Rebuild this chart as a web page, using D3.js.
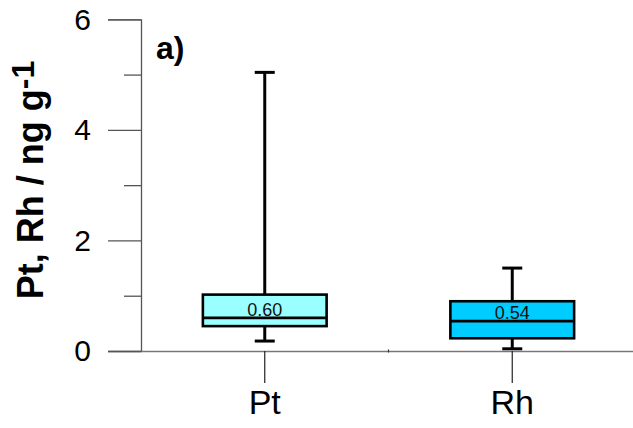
<!DOCTYPE html>
<html>
<head>
<meta charset="utf-8">
<script src="https://cdn.jsdelivr.net/npm/d3@7"></script>
<style>
  html, body { margin: 0; padding: 0; background: #fff; }
  svg { display: block; }
  text { font-family: "Liberation Sans", Arial, Helvetica, sans-serif; }
</style>
</head>
<body>
<svg id="chart" width="633" height="428"></svg>
<script>
// Box-plot statistics per element (ng g-1)
const categories = ["Pt", "Rh"];
const whiskerLow = [0.18, 0.04];
const quartile1 = [0.45, 0.23];
const medians = [0.60, 0.54];
const quartile3 = [1.02, 0.90];
const whiskerHigh = [5.04, 1.50];
const boxColors = ["#99FFFF", "#00CCFF"];
const yTicks = [0, 2, 4, 6];
const yMinorTicks = [1, 3, 5];

const svg = d3.select("#chart");

const x = d3.scaleBand().domain(categories).range([141, 636]).padding(0);
const y = d3.scaleLinear().domain([0, 6]).range([351, 19.3]);

const axisColor = "#555";

// y axis: long major ticks, short minor ticks
const yAxisMajor = d3.axisLeft(y).tickValues(yTicks).tickSize(33).tickPadding(17).tickFormat(d3.format("d"));
const yAxisMinor = d3.axisLeft(y).tickValues(yMinorTicks).tickSize(17).tickFormat("");

const gy = svg.append("g").attr("transform", `translate(${x.range()[0]},0)`).call(yAxisMajor);
gy.selectAll(".tick text").attr("font-size", 30).attr("fill", "#000").attr("dy", "0.33em");
svg.append("g").attr("transform", `translate(${x.range()[0]},0)`).call(yAxisMinor)
  .select(".domain").remove();
svg.selectAll(".domain, .tick line").attr("stroke", axisColor).attr("stroke-width", 1.3);

// x axis with category ticks hanging below
const xAxis = d3.axisBottom(x).tickSize(32).tickPadding(6).tickSizeOuter(0);
const gx = svg.append("g").attr("transform", `translate(0,${y(0)})`).call(xAxis);
gx.select(".domain").attr("stroke", "#777").attr("stroke-width", 1.5);
gx.selectAll(".tick line").attr("stroke", "#222").attr("stroke-width", 1.2);
gx.selectAll(".tick text").attr("font-size", 34).attr("fill", "#000").attr("dy", "0.74em");

// small mark at the boundary between the two categories
gx.append("line")
  .attr("x1", x("Rh")).attr("x2", x("Rh"))
  .attr("y1", -1.5).attr("y2", 1.5)
  .attr("stroke", "#333").attr("stroke-width", 1.2);

// boxes
const boxW = x.bandwidth() * 0.5;
const capW = 20;
const groups = svg.selectAll(".box").data(categories).join("g").attr("class", "box")
  .attr("transform", d => `translate(${x(d) + x.bandwidth() / 2},0)`);

groups.append("line")
  .attr("x1", 0).attr("x2", 0)
  .attr("y1", (d, i) => y(whiskerHigh[i])).attr("y2", (d, i) => y(quartile3[i]))
  .attr("stroke", "#000").attr("stroke-width", 3);
groups.append("line")
  .attr("x1", 0).attr("x2", 0)
  .attr("y1", (d, i) => y(quartile1[i])).attr("y2", (d, i) => y(whiskerLow[i]))
  .attr("stroke", "#000").attr("stroke-width", 3);
groups.append("line")
  .attr("x1", -capW / 2).attr("x2", capW / 2)
  .attr("y1", (d, i) => y(whiskerHigh[i])).attr("y2", (d, i) => y(whiskerHigh[i]))
  .attr("stroke", "#000").attr("stroke-width", 3);
groups.append("line")
  .attr("x1", -capW / 2).attr("x2", capW / 2)
  .attr("y1", (d, i) => y(whiskerLow[i])).attr("y2", (d, i) => y(whiskerLow[i]))
  .attr("stroke", "#000").attr("stroke-width", 3);
groups.append("rect")
  .attr("x", -boxW / 2).attr("width", boxW)
  .attr("y", (d, i) => y(quartile3[i]))
  .attr("height", (d, i) => y(quartile1[i]) - y(quartile3[i]))
  .attr("fill", (d, i) => boxColors[i])
  .attr("stroke", "#000").attr("stroke-width", 2.6);
groups.append("line")
  .attr("x1", -boxW / 2).attr("x2", boxW / 2)
  .attr("y1", (d, i) => y(medians[i])).attr("y2", (d, i) => y(medians[i]))
  .attr("stroke", "#000").attr("stroke-width", 2.6);
groups.append("text")
  .attr("x", 0).attr("y", (d, i) => y(medians[i]) - 2)
  .attr("text-anchor", "middle").attr("font-size", 18).attr("fill", "#111")
  .text((d, i) => medians[i].toFixed(2));

// y axis title
const title = svg.append("text")
  .attr("transform", "translate(43,180) rotate(-90)")
  .attr("text-anchor", "middle")
  .attr("font-size", 36).attr("font-weight", "bold").attr("fill", "#000");
title.append("tspan").text("Pt, Rh / ng g");
title.append("tspan").attr("dy", -9).attr("font-size", 32).text("-1");

// panel label
svg.append("text")
  .attr("x", 156).attr("y", 59)
  .attr("font-size", 32).attr("font-weight", "bold").attr("fill", "#000")
  .text("a)");
</script>
</body>
</html>
